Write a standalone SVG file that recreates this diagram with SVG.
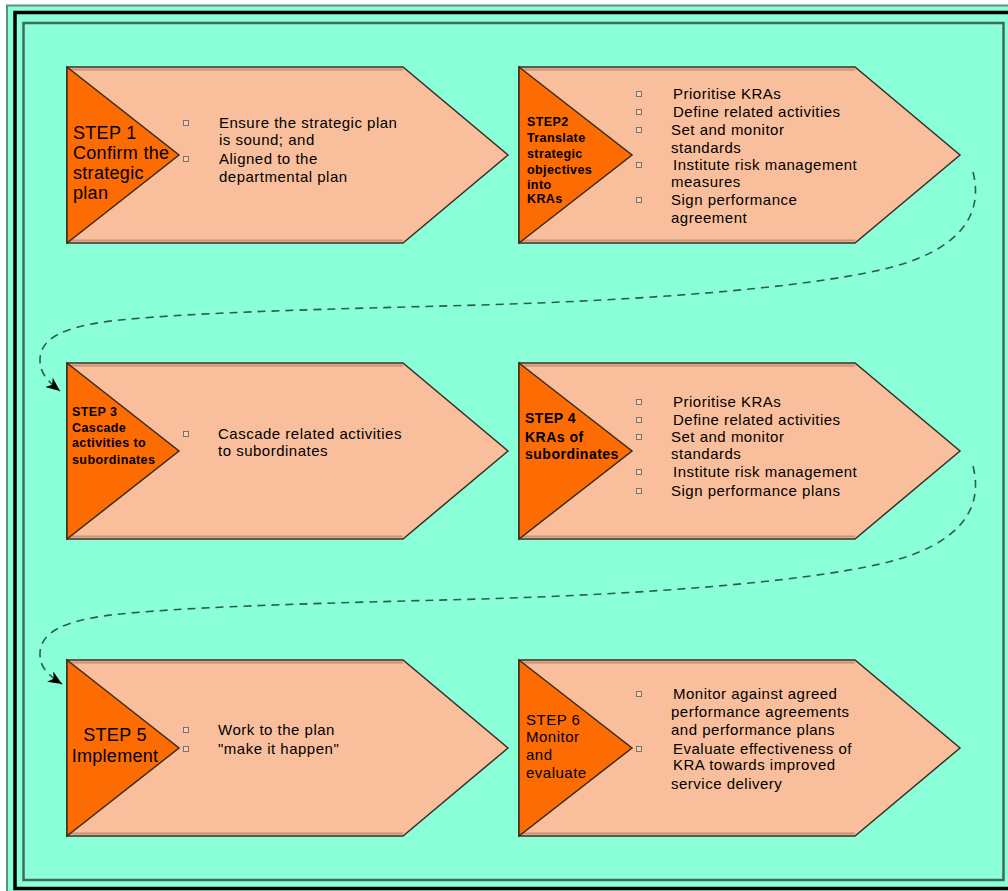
<svg xmlns="http://www.w3.org/2000/svg" width="1008" height="891" viewBox="0 0 1008 891">
<style>
.bg{fill:#8affd8}
.body{fill:#f9bf9c;stroke:#3b2e27;stroke-width:1.5;stroke-linejoin:miter}
.band{fill:none;stroke:#c49478;stroke-width:2}
.tri{fill:#fc6c02;stroke:#3b2a1c;stroke-width:1.5}
.t{font-family:"Liberation Sans",Arial,sans-serif;fill:#000}
.big{font-size:18px;letter-spacing:0.3px}
.b{font-size:15px;letter-spacing:0.5px}
.sm{font-size:12.5px;font-weight:bold;letter-spacing:0.4px}
.md{font-size:14px;font-weight:bold;letter-spacing:0.5px}
.bul{fill:#ead3c4;stroke:#8b6d5e;stroke-width:1}
.conn{fill:none;stroke:#2b5d50;stroke-width:1.6;stroke-dasharray:8 6}
</style>
<defs>
<marker id="ah" markerUnits="userSpaceOnUse" markerWidth="16" markerHeight="12" refX="14" refY="6" orient="auto">
<path d="M0,0 L14,6 L0,12 L4,6 z" fill="#000"/>
</marker>
</defs>
<rect x="0" y="0" width="1008" height="891" fill="#ffffff"/>
<rect x="7" y="5.5" width="1012" height="892" fill="#8affd8" stroke="#5a9080" stroke-width="2"/>
<rect x="15" y="12.5" width="1000" height="876" fill="none" stroke="#000" stroke-width="3.5"/>
<rect x="23.5" y="23" width="980" height="857" class="bg" stroke="#3d6b5c" stroke-width="2.5"/>

<g id="connectors">
<path class="conn" d="M 973,172 C 984,215 960,252 880,270 C 800,288 650,300 480,305 C 330,309 200,312 120,320 C 60,326 40,340 40,360 C 40,372 46,380 60,391" marker-end="url(#ah)"/>
<path class="conn" d="M 973,466 C 984,509 960,546 880,564 C 800,582 650,594 480,599 C 330,603 200,606 120,614 C 60,620 40,634 40,654 C 40,666 46,674 62,684" marker-end="url(#ah)"/>
</g>

<g id="step1">
<polygon class="body" points="67,67 403,67 508,155 403,243 67,243"/>
<line class="band" x1="68" y1="69.5" x2="403" y2="69.5"/>
<line class="band" x1="68" y1="240.5" x2="403" y2="240.5"/>
<polygon class="tri" points="67,67 179,155 67,243"/>
<text class="t big" x="73" y="139">STEP 1</text>
<text class="t big" x="73" y="159">Confirm the</text>
<text class="t big" x="73" y="179">strategic</text>
<text class="t big" x="73" y="199">plan</text>
<rect class="bul" x="183.5" y="120.5" width="5" height="5"/>
<rect class="bul" x="183.5" y="156.5" width="5" height="5"/>
<text class="t b" x="219" y="128">Ensure the strategic plan</text>
<text class="t b" x="219" y="145">is sound; and</text>
<text class="t b" x="219" y="164">Aligned to the</text>
<text class="t b" x="219" y="182">departmental plan</text>
</g>

<g id="step2">
<polygon class="body" points="519,67 855,67 960,155 855,243 519,243"/>
<line class="band" x1="520" y1="69.5" x2="855" y2="69.5"/>
<line class="band" x1="520" y1="240.5" x2="855" y2="240.5"/>
<polygon class="tri" points="519,67 632,155 519,243"/>
<text class="t sm" x="527" y="125.5">STEP2</text>
<text class="t sm" x="527" y="141.5">Translate</text>
<text class="t sm" x="527" y="157.5">strategic</text>
<text class="t sm" x="527" y="173.5">objectives</text>
<text class="t sm" x="527" y="188.5">into</text>
<text class="t sm" x="527" y="202.5">KRAs</text>
<rect class="bul" x="636.5" y="91.5" width="5" height="5"/>
<rect class="bul" x="636.5" y="109.5" width="5" height="5"/>
<rect class="bul" x="636.5" y="127.5" width="5" height="5"/>
<rect class="bul" x="636.5" y="162.5" width="5" height="5"/>
<rect class="bul" x="636.5" y="197.5" width="5" height="5"/>
<text class="t b" x="673" y="99">Prioritise KRAs</text>
<text class="t b" x="673" y="117">Define related activities</text>
<text class="t b" x="671" y="135">Set and monitor</text>
<text class="t b" x="671" y="153">standards</text>
<text class="t b" x="673" y="170">Institute risk management</text>
<text class="t b" x="671" y="187">measures</text>
<text class="t b" x="671" y="205">Sign performance</text>
<text class="t b" x="671" y="223">agreement</text>
</g>

<g id="step3">
<polygon class="body" points="67,363 403,363 508,451 403,539 67,539"/>
<line class="band" x1="68" y1="365.5" x2="403" y2="365.5"/>
<line class="band" x1="68" y1="536.5" x2="403" y2="536.5"/>
<polygon class="tri" points="67,363 179,451 67,539"/>
<text class="t sm" x="72" y="416">STEP 3</text>
<text class="t sm" x="72" y="432">Cascade</text>
<text class="t sm" x="72" y="447">activities to</text>
<text class="t sm" x="72" y="464">subordinates</text>
<rect class="bul" x="183.5" y="431.5" width="5" height="5"/>
<text class="t b" x="218" y="439">Cascade related activities</text>
<text class="t b" x="218" y="456">to subordinates</text>
</g>

<g id="step4">
<polygon class="body" points="519,363 855,363 960,451 855,539 519,539"/>
<line class="band" x1="520" y1="365.5" x2="855" y2="365.5"/>
<line class="band" x1="520" y1="536.5" x2="855" y2="536.5"/>
<polygon class="tri" points="519,363 632,451 519,539"/>
<text class="t md" x="525" y="423">STEP 4</text>
<text class="t md" x="525" y="442">KRAs of</text>
<text class="t md" x="525" y="459">subordinates</text>
<rect class="bul" x="636.5" y="399.5" width="5" height="5"/>
<rect class="bul" x="636.5" y="417.5" width="5" height="5"/>
<rect class="bul" x="636.5" y="434.5" width="5" height="5"/>
<rect class="bul" x="636.5" y="469.5" width="5" height="5"/>
<rect class="bul" x="636.5" y="488.5" width="5" height="5"/>
<text class="t b" x="673" y="407">Prioritise KRAs</text>
<text class="t b" x="673" y="425">Define related activities</text>
<text class="t b" x="671" y="442">Set and monitor</text>
<text class="t b" x="671" y="459">standards</text>
<text class="t b" x="673" y="477">Institute risk management</text>
<text class="t b" x="671" y="496">Sign performance plans</text>
</g>

<g id="step5">
<polygon class="body" points="67,660 403,660 508,748 403,836 67,836"/>
<line class="band" x1="68" y1="662.5" x2="403" y2="662.5"/>
<line class="band" x1="68" y1="833.5" x2="403" y2="833.5"/>
<polygon class="tri" points="67,660 179,748 67,836"/>
<text class="t big" x="115" y="741" text-anchor="middle">STEP 5</text>
<text class="t big" x="115" y="762" text-anchor="middle">Implement</text>
<rect class="bul" x="183.5" y="727.5" width="5" height="5"/>
<rect class="bul" x="183.5" y="746.5" width="5" height="5"/>
<text class="t b" x="218" y="735">Work to the plan</text>
<text class="t b" x="218" y="754">"make it happen"</text>
</g>

<g id="step6">
<polygon class="body" points="519,660 855,660 960,748 855,836 519,836"/>
<line class="band" x1="520" y1="662.5" x2="855" y2="662.5"/>
<line class="band" x1="520" y1="833.5" x2="855" y2="833.5"/>
<polygon class="tri" points="519,660 632,748 519,836"/>
<text class="t b" x="526" y="725">STEP 6</text>
<text class="t b" x="526" y="742">Monitor</text>
<text class="t b" x="526" y="760">and</text>
<text class="t b" x="526" y="778">evaluate</text>
<rect class="bul" x="636.5" y="691.5" width="5" height="5"/>
<rect class="bul" x="636.5" y="746.5" width="5" height="5"/>
<text class="t b" x="673" y="699">Monitor against agreed</text>
<text class="t b" x="671" y="717">performance agreements</text>
<text class="t b" x="671" y="735">and performance plans</text>
<text class="t b" x="673" y="754">Evaluate effectiveness of</text>
<text class="t b" x="673" y="770">KRA towards improved</text>
<text class="t b" x="671" y="789">service delivery</text>
</g>
</svg>
